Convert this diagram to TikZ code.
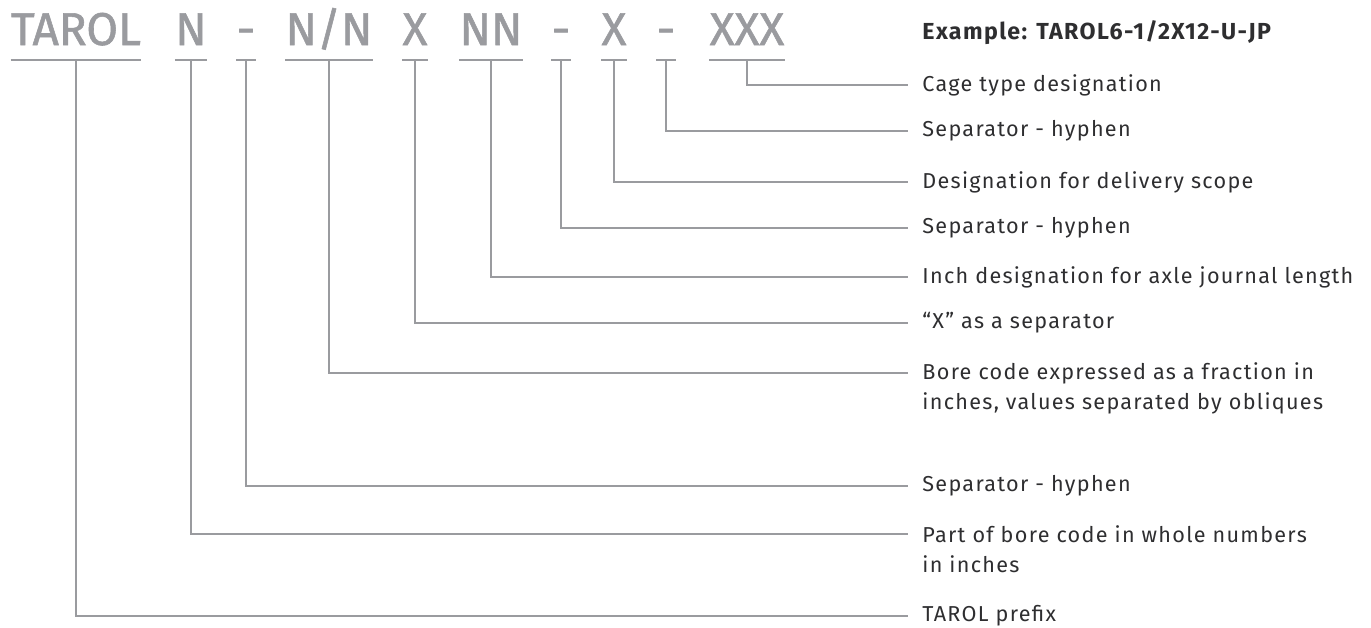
\documentclass[tikz,border=0pt]{standalone}
\usepackage{fontspec}
\setmainfont{Fira Sans}
\newfontfamily\labfont{Fira Sans}[LetterSpace=6]
\newfontfamily\codefont{Fira Sans}[FakeBold=1.2]
\usepackage{xcolor}
\usepackage{tikz}

\definecolor{codegray}{HTML}{9A9B9F}
\definecolor{textgray}{HTML}{2E2E30}

\tikzset{
  code/.style={text=codegray, font=\codefont\fontsize{23}{23}\selectfont, inner sep=0pt, anchor=base},
  lab/.style={text=textgray, font=\labfont\fontsize{10.8}{15}\selectfont, inner xsep=7pt, inner ysep=0pt, anchor=west, align=left},
  rule/.style={codegray, line width=1pt},
}

\begin{document}
\begin{tikzpicture}[x=0.5pt, y=-0.5pt]
    \useasboundingbox (0,0) rectangle (1371,627);

    % The designation code
    \node[code] (tarol) at (76,45) {TAROL};
    \node[code] (n) at (191,45) {N};
    \node[code] (hyA) at (246,45) {-};
    \node[code] (frac) at (329,45) {N/N};
    \node[code] (xA) at (415,45) {X};
    \node[code] (nn) at (491,45) {NN};
    \node[code] (hyB) at (561,45) {-};
    \node[code] (xB) at (614,45) {X};
    \node[code] (hyC) at (666,45) {-};
    \node[code] (xxx) at (747,45) {XXX};

    % Underlines
    \coordinate (u) at (0,60);
    \foreach \c in {tarol,n,hyA,frac,xA,nn,hyB,xB,hyC,xxx}
      \draw[rule] (\c.west |- u) -- (\c.east |- u);

    % Explanations
    \node[lab, font=\labfont\bfseries\fontsize{11.6}{15}\selectfont] (example) at (908,33) {Example: TAROL6-1/2X12-U-JP};
    \node[lab] (lxxx) at (908,85) {Cage type designation};
    \node[lab] (lhyC) at (908,131) {Separator - hyphen};
    \node[lab] (lxB) at (908,182) {Designation for delivery scope};
    \node[lab] (lhyB) at (908,228) {Separator - hyphen};
    \node[lab] (lnn) at (908,277) {Inch designation for axle journal length};
    \node[lab] (lxA) at (908,323) {“X” as a separator};
    \node[lab] (lfrac) at (908,388) {Bore code expressed as a fraction in\\inches, values separated by obliques};
    \node[lab] (lhyA) at (908,486) {Separator - hyphen};
    \node[lab] (ln) at (908,549) {Part of bore code in whole numbers\\in inches};
    \node[lab] (ltarol) at (908,616) {TAROL prefix};

    % Leader lines
    \draw[rule] (xxx.center |- u) |- (lxxx.west);
    \draw[rule] (hyC.center |- u) |- (lhyC.west);
    \draw[rule] (xB.center |- u) |- (lxB.west);
    \draw[rule] (hyB.center |- u) |- (lhyB.west);
    \draw[rule] (nn.center |- u) |- (lnn.west);
    \draw[rule] (xA.center |- u) |- (lxA.west);
    \draw[rule] (frac.center |- u) |- ([yshift=7.5pt]lfrac.west);
    \draw[rule] (hyA.center |- u) |- (lhyA.west);
    \draw[rule] (n.center |- u) |- ([yshift=7.5pt]ln.west);
    \draw[rule] (tarol.center |- u) |- (ltarol.west);
\end{tikzpicture}
\end{document}
